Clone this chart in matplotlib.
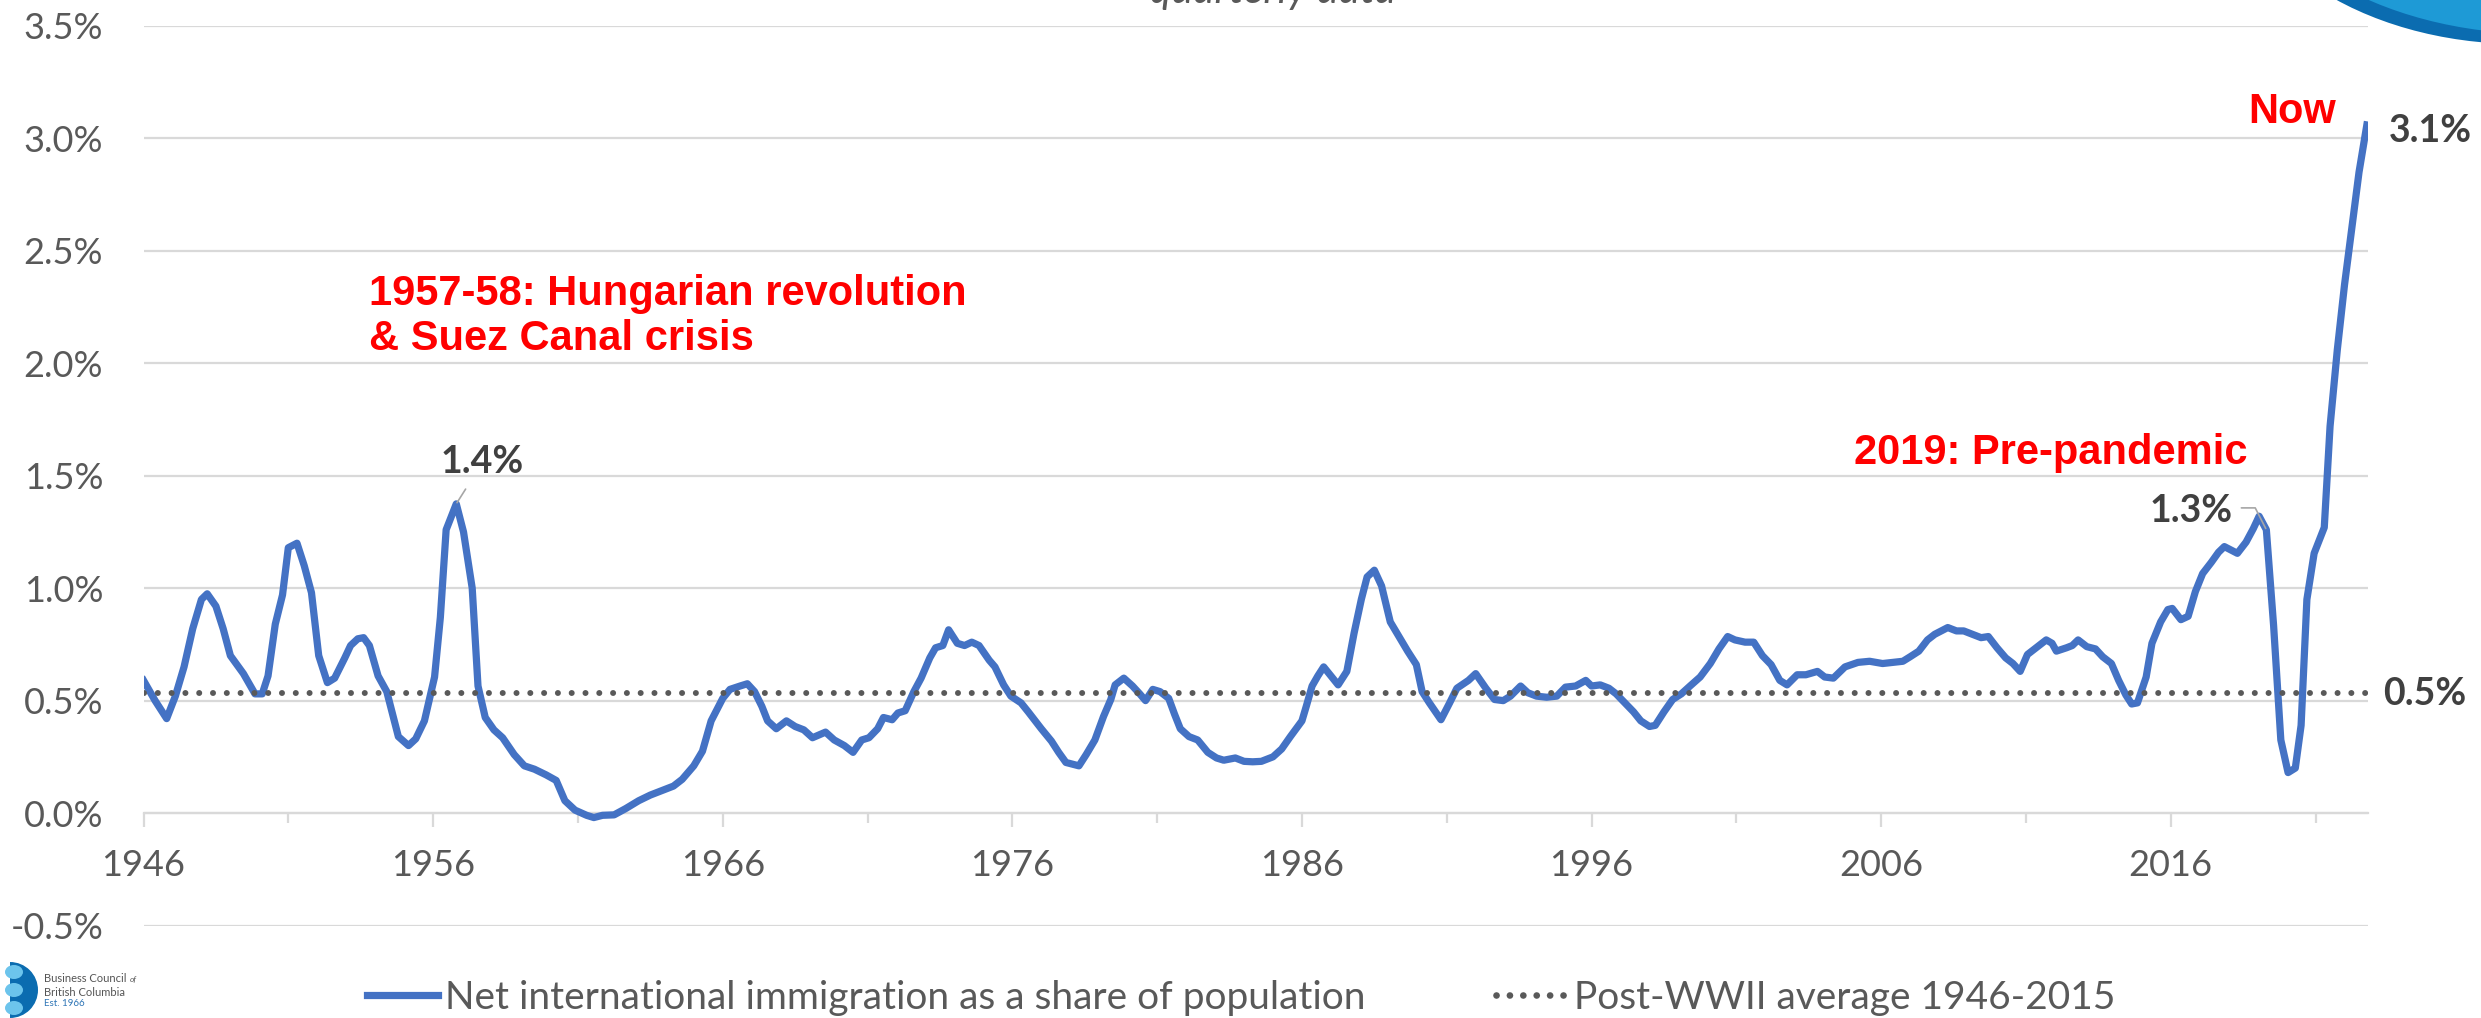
import numpy as np
import matplotlib.pyplot as plt
from matplotlib.patches import Ellipse, Wedge
from matplotlib.lines import Line2D
from matplotlib.transforms import IdentityTransform

# net international immigration as % of population, quarterly
years = [1946.0, 1946.4, 1946.8, 1947.1, 1947.4, 1947.7, 1948.0, 1948.2, 1948.5, 1948.75,
         1949.0, 1949.45, 1949.85, 1950.1, 1950.3, 1950.55, 1950.8, 1951.0, 1951.3, 1951.55,
         1951.8, 1952.05, 1952.35, 1952.6, 1952.95, 1953.15, 1953.4, 1953.6, 1953.8, 1954.1,
         1954.4, 1954.6, 1954.8, 1955.15, 1955.4, 1955.7, 1956.05, 1956.25, 1956.45, 1956.8,
         1957.05, 1957.35, 1957.55, 1957.8, 1958.1, 1958.4, 1958.8, 1959.15, 1959.5, 1959.9,
         1960.25, 1960.55, 1960.9, 1961.3, 1961.55, 1961.85, 1962.25, 1962.65, 1963.1, 1963.5,
         1963.9, 1964.3, 1964.6, 1965.0, 1965.3, 1965.6, 1966.0, 1966.25, 1966.6, 1966.85,
         1967.1, 1967.35, 1967.55, 1967.85, 1968.2, 1968.5, 1968.8, 1969.1, 1969.55, 1969.85,
         1970.2, 1970.5, 1970.8, 1971.05, 1971.35, 1971.55, 1971.85, 1972.05, 1972.3, 1972.6,
         1972.85, 1973.15, 1973.35, 1973.6, 1973.8, 1974.1, 1974.35, 1974.6, 1974.85, 1975.2,
         1975.4, 1975.7, 1975.95, 1976.3, 1976.55, 1977.0, 1977.35, 1977.6, 1977.85, 1978.3,
         1978.55, 1978.85, 1979.15, 1979.4, 1979.55, 1979.85, 1980.15, 1980.4, 1980.6, 1980.85,
         1981.1, 1981.4, 1981.6, 1981.8, 1982.1, 1982.4, 1982.75, 1983.05, 1983.3, 1983.7,
         1984.0, 1984.3, 1984.6, 1985.0, 1985.3, 1985.6, 1986.0, 1986.15, 1986.35, 1986.55,
         1986.75, 1987.0, 1987.25, 1987.55, 1987.8, 1988.05, 1988.25, 1988.5, 1988.75, 1989.05,
         1989.35, 1989.65, 1989.95, 1990.15, 1990.4, 1990.8, 1991.1, 1991.35, 1991.75, 1992.0,
         1992.35, 1992.65, 1992.95, 1993.2, 1993.55, 1993.8, 1994.1, 1994.45, 1994.8, 1995.1,
         1995.45, 1995.8, 1996.0, 1996.3, 1996.6, 1996.85, 1997.15, 1997.45, 1997.7, 1998.0,
         1998.2, 1998.5, 1998.8, 1999.1, 1999.4, 1999.75, 2000.1, 2000.4, 2000.7, 2000.95,
         2001.3, 2001.6, 2001.9, 2002.2, 2002.5, 2002.75, 2003.1, 2003.4, 2003.8, 2004.05,
         2004.35, 2004.75, 2005.2, 2005.6, 2006.05, 2006.4, 2006.75, 2007.0, 2007.3, 2007.6,
         2007.85, 2008.3, 2008.6, 2008.85, 2009.15, 2009.45, 2009.7, 2010.0, 2010.3, 2010.55,
         2010.8, 2011.05, 2011.3, 2011.7, 2011.9, 2012.05, 2012.4, 2012.6, 2012.8, 2013.1,
         2013.4, 2013.65, 2013.95, 2014.2, 2014.45, 2014.65, 2014.85, 2015.15, 2015.35, 2015.65,
         2015.9, 2016.05, 2016.35, 2016.6, 2016.85, 2017.1, 2017.4, 2017.65, 2017.85, 2018.3,
         2018.6, 2018.85, 2019.05, 2019.3, 2019.55, 2019.8, 2020.05, 2020.3, 2020.5, 2020.7,
         2020.95, 2021.3, 2021.5, 2021.75, 2022.0, 2022.25, 2022.5, 2022.77]
share = [0.59, 0.50, 0.42, 0.52, 0.65, 0.82, 0.95, 0.975, 0.92, 0.82,
         0.70, 0.62, 0.53, 0.53, 0.61, 0.84, 0.97, 1.18, 1.20, 1.10,
         0.98, 0.70, 0.58, 0.60, 0.69, 0.745, 0.775, 0.78, 0.745, 0.61,
         0.54, 0.44, 0.34, 0.30, 0.33, 0.41, 0.605, 0.87, 1.26, 1.375,
         1.25, 1.00, 0.565, 0.425, 0.37, 0.335, 0.26, 0.21, 0.195, 0.17,
         0.145, 0.055, 0.013, -0.01, -0.02, -0.01, -0.008, 0.02, 0.055, 0.08,
         0.10, 0.12, 0.15, 0.21, 0.275, 0.41, 0.51, 0.55, 0.565, 0.575,
         0.54, 0.475, 0.41, 0.375, 0.41, 0.385, 0.37, 0.335, 0.36, 0.325,
         0.30, 0.27, 0.325, 0.335, 0.375, 0.425, 0.415, 0.445, 0.455, 0.54,
         0.60, 0.69, 0.735, 0.745, 0.815, 0.755, 0.745, 0.76, 0.745, 0.68,
         0.65, 0.57, 0.52, 0.49, 0.45, 0.375, 0.32, 0.27, 0.225, 0.21,
         0.26, 0.325, 0.43, 0.505, 0.57, 0.60, 0.565, 0.53, 0.50, 0.55,
         0.54, 0.51, 0.44, 0.375, 0.34, 0.325, 0.27, 0.245, 0.235, 0.245,
         0.23, 0.228, 0.23, 0.25, 0.285, 0.34, 0.41, 0.475, 0.565, 0.61,
         0.65, 0.61, 0.57, 0.63, 0.80, 0.95, 1.05, 1.08, 1.01, 0.85,
         0.785, 0.72, 0.66, 0.54, 0.49, 0.415, 0.49, 0.555, 0.59, 0.62,
         0.555, 0.505, 0.50, 0.52, 0.565, 0.535, 0.52, 0.515, 0.52, 0.56,
         0.565, 0.59, 0.565, 0.57, 0.555, 0.53, 0.49, 0.45, 0.41, 0.385,
         0.39, 0.45, 0.505, 0.53, 0.565, 0.605, 0.665, 0.73, 0.785, 0.77,
         0.76, 0.76, 0.70, 0.66, 0.59, 0.57, 0.615, 0.615, 0.63, 0.605,
         0.60, 0.65, 0.67, 0.675, 0.665, 0.67, 0.675, 0.695, 0.72, 0.77,
         0.795, 0.825, 0.81, 0.81, 0.795, 0.78, 0.785, 0.735, 0.69, 0.665,
         0.63, 0.705, 0.73, 0.77, 0.755, 0.72, 0.735, 0.745, 0.77, 0.74,
         0.73, 0.695, 0.665, 0.59, 0.525, 0.485, 0.49, 0.605, 0.755, 0.85,
         0.905, 0.91, 0.86, 0.875, 0.985, 1.065, 1.115, 1.16, 1.185, 1.155,
         1.205, 1.265, 1.32, 1.26, 0.835, 0.325, 0.18, 0.20, 0.39, 0.95,
         1.155, 1.27, 1.72, 2.06, 2.35, 2.60, 2.85, 3.06]
avg_1946_2015 = 0.535

major_years = list(range(1946, 2017, 10))
minor_years = list(range(1951, 2022, 10))
y_ticks = [-0.5, 0.0, 0.5, 1.0, 1.5, 2.0, 2.5, 3.0, 3.5]

W, H = 2481, 1018
BLUE = '#4472C4'
GREY = '#595959'
DARK = '#404040'
RED = '#FF0000'
GRID = '#D9D9D9'
plt.rcParams['font.family'] = ['Lato', 'DejaVu Sans']
narrow = ['Liberation Sans Narrow', 'Liberation Sans']

fig = plt.figure(figsize=(W / 100, H / 100), dpi=100)
ax = fig.add_axes([143.5 / W, (H - 925.5) / H, (2368 - 143.5) / W, (925.5 - 26) / H])

ax.plot(years, share, color=BLUE, lw=5.2, solid_joinstyle='round', zorder=3)
ax.axhline(avg_1946_2015, color=GREY, lw=4.3, dashes=(0.01, 2.3), dash_capstyle='round', zorder=4)

ax.set_xlim(1946, 2022.81)
ax.set_ylim(-0.5, 3.5)
ax.set_yticks(y_ticks)
ax.set_yticklabels([f'{v:.1f}%' for v in y_ticks])
ax.yaxis.grid(True, color=GRID, lw=1.6)
ax.set_axisbelow(True)
ax.tick_params(axis='y', length=0, pad=29, labelsize=26, labelcolor=GREY)

ax.set_xticks(major_years)
ax.set_xticks(minor_years, minor=True)
ax.tick_params(axis='x', which='major', length=10, width=1.6, color=GRID,
               pad=16, labelsize=26, labelcolor=GREY)
ax.tick_params(axis='x', which='minor', length=7, width=1.6, color=GRID)
for s in ['left', 'right', 'top']:
    ax.spines[s].set_visible(False)
ax.spines['bottom'].set_position(('data', 0))
ax.spines['bottom'].set_color(GRID)
ax.spines['bottom'].set_linewidth(1.6)

# red call-outs
ax.text(1953.79, 2.258, '1957-58: Hungarian revolution', color=RED, fontsize=30,
        fontweight='bold', family=narrow, va='baseline')
ax.text(1953.79, 2.058, '& Suez Canal crisis', color=RED, fontsize=30,
        fontweight='bold', family=narrow, va='baseline')
ax.text(2005.05, 1.551, '2019: Pre-pandemic', color=RED, fontsize=30,
        fontweight='bold', family=narrow, va='baseline')
ax.text(2018.67, 3.067, 'Now', color=RED, fontsize=30,
        fontweight='bold', family=narrow, va='baseline')

# data labels
i56 = share.index(max(share[:60]))
ax.annotate(f'{share[i56]:.1f}%', xy=(years[i56], share[i56]), xytext=(1956.27, 1.511),
            fontsize=27, fontweight='bold', color=DARK, va='baseline',
            arrowprops=dict(arrowstyle='-', color='#A6A6A6', lw=1.2, shrinkA=6, shrinkB=1))
i19 = years.index(2019.3)
ax.annotate(f'{share[i19]:.1f}%', xy=(years[i19], share[i19]), xytext=(2015.28, 1.293),
            fontsize=27, fontweight='bold', color=DARK, va='baseline',
            arrowprops=dict(arrowstyle='-', color='#A6A6A6', lw=1.2, shrinkA=4, shrinkB=1,
                            relpos=(1.0, 0.6),
                            connectionstyle='angle,angleA=0,angleB=117,rad=0'))
ax.text(2023.54, 2.984, f'{share[-1]:.1f}%', fontsize=27, fontweight='bold', color=DARK,
        va='baseline', clip_on=False)
ax.text(2023.33, 0.48, f'{avg_1946_2015:.1f}%', fontsize=27, fontweight='bold', color=DARK,
        va='baseline', clip_on=False)

# subtitle, cut off at top edge
fig.text(1273 / W, 1 - 3 / H, 'quarterly data', ha='center', va='baseline',
         style='italic', color=GREY, fontsize=30)

# legend
handles = [Line2D([], [], color=BLUE, lw=5.2),
           Line2D([], [], color=GREY, lw=4.8, dashes=(0.01, 2.0), dash_capstyle='round')]
fig.legend(handles, ['Net international immigration as a share of population',
                     'Post-WWII average 1946-2015'],
           loc='center left', bbox_to_anchor=(367 / W, 1 - 998 / H), ncol=2, frameon=False,
           fontsize=28, labelcolor=GREY, handlelength=1.83, handletextpad=0.18,
           columnspacing=3.36, borderpad=0, borderaxespad=0)

# logo swoosh top right
fig.add_artist(Ellipse((2520 / W, 1 + 156 / H), 586 / W, 400 / H, color='#0B6CB0', lw=0))
fig.add_artist(Ellipse((2540 / W, 1 + 156 / H), 600 / W, 380 / H, color='#1E9AD6', lw=0))

# logo bottom left
fig.add_artist(Wedge((10, H - 990), 28, -90, 90, color='#0B6CB0', lw=0,
                     transform=IdentityTransform()))
for yy in [972, 990, 1008]:
    fig.add_artist(Ellipse((14, H - yy), 18, 14, color='#6CC4EC', lw=0,
                           transform=IdentityTransform()))
fig.text(44 / W, 1 - 979 / H, 'Business Council', fontsize=8, color='#555555', va='center')
fig.text(130 / W, 1 - 979 / H, 'of', fontsize=6, style='italic', color='#555555', va='center')
fig.text(44 / W, 1 - 992 / H, 'British Columbia', fontsize=8, color='#555555', va='center')
fig.text(44 / W, 1 - 1003 / H, 'Est. 1966', fontsize=7, color='#2E75B6', va='center')

fig.savefig('out.png', dpi=100)
